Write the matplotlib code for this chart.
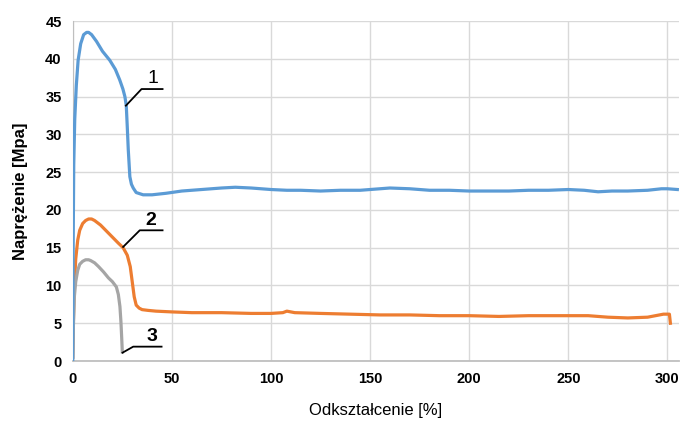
import matplotlib.pyplot as plt

plt.rcParams['font.family'] = ['Liberation Sans', 'DejaVu Sans']

# Stress-strain curves for three samples
strain_1 = [0, 0.2, 0.5, 1.0, 1.8, 2.7, 4.0, 5.5, 7.0, 8.0, 9.5, 12, 15, 18.7, 21.5, 23.7,
            25.3, 26.3, 27.0, 27.5, 28.0, 28.8, 29.6, 30.5, 32, 35.5, 40, 47, 55, 65, 75, 82,
            90, 100, 108, 115, 125, 135, 145, 155, 160, 170, 180, 190, 200, 210, 220, 230,
            240, 250, 258, 265, 272, 280, 290, 297, 300, 305]
stress_1 = [0, 15, 26, 32, 36.5, 39.8, 42.0, 43.2, 43.5, 43.5, 43.2, 42.3, 41.0, 39.8, 38.6, 37.2,
            36.0, 35.0, 33.8, 31.0, 28.0, 24.4, 23.4, 22.9, 22.3, 22.0, 22.0, 22.2, 22.5, 22.7, 22.9, 23.0,
            22.9, 22.7, 22.6, 22.6, 22.5, 22.6, 22.6, 22.8, 22.9, 22.8, 22.6, 22.6, 22.5, 22.5, 22.5, 22.6,
            22.6, 22.7, 22.6, 22.4, 22.5, 22.5, 22.6, 22.8, 22.8, 22.7]

strain_2 = [0, 0.3, 0.8, 1.5, 2.5, 3.5, 5.0, 6.5, 8.0, 9.5, 11, 14, 17, 20, 23, 25.4, 27.5,
            29.0, 30.0, 31.0, 32.0, 33.5, 35, 38, 42, 50, 60, 75, 90, 100, 106, 108, 112, 125,
            140, 155, 170, 185, 200, 215, 230, 245, 260, 270, 280, 290, 298, 301, 301.5]
stress_2 = [0.5, 5, 10, 13.5, 16, 17.3, 18.2, 18.6, 18.8, 18.8, 18.6, 18.0, 17.2, 16.4, 15.6, 15.0, 14.0,
            12.5, 10.5, 8.5, 7.4, 7.0, 6.8, 6.7, 6.6, 6.5, 6.4, 6.4, 6.3, 6.3, 6.4, 6.6, 6.4, 6.3,
            6.2, 6.1, 6.1, 6.0, 6.0, 5.9, 6.0, 6.0, 6.0, 5.8, 5.7, 5.8, 6.2, 6.2, 5.0]

strain_3 = [0, 0.3, 0.8, 1.5, 2.5, 3.5, 5.0, 6.5, 8.0, 9.0, 11, 13, 15.5, 18, 20, 22, 23, 23.8,
            24.3, 24.7, 25.0]
stress_3 = [0.5, 4.5, 8.5, 10.5, 12.0, 12.8, 13.2, 13.4, 13.4, 13.3, 13.0, 12.5, 11.8, 11.0, 10.5,
            9.8, 8.8, 7.2, 5.2, 3.0, 1.2]

# Leader lines for the curve numbers: curve point, elbow, end; then text position
labels = ['1', '2', '3']
leader_pts = [[(26.8, 33.8), (34.7, 36.0), (45.3, 36.0)],
              [(25.4, 15.1), (33.8, 17.3), (45.3, 17.3)],
              [(25.1, 1.1), (30.5, 1.9), (44.8, 1.9)]]
label_pos = [(40.2, 36.3), (39.5, 17.5), (39.7, 2.1)]

xticks = [0, 50, 100, 150, 200, 250, 300]
yticks = [0, 5, 10, 15, 20, 25, 30, 35, 40, 45]

fig = plt.figure(figsize=(6.8, 4.21), dpi=100)
ax = fig.add_axes([0.107, 0.1425, 0.892, 0.8075])

ax.plot(strain_2, stress_2, color='#ED7D31', lw=2.3, zorder=3)
ax.plot(strain_3, stress_3, color='#A5A5A5', lw=2.3, zorder=3)
ax.plot(strain_1, stress_1, color='#5B9BD5', lw=2.3, zorder=4)

for lab, pts, pos in zip(labels, leader_pts, label_pos):
    xs = [p[0] for p in pts]
    ys = [p[1] for p in pts]
    ax.plot(xs, ys, color='black', lw=1.3, zorder=5)
    ax.text(pos[0], pos[1], lab, fontsize=14, ha='center', va='bottom',
            fontweight='normal' if lab == '1' else 'bold', zorder=5)

ax.set_xlim(0, 306)
ax.set_ylim(0, 45)
ax.set_xticks(xticks)
ax.set_yticks(yticks)
ax.grid(True, color='#D9D9D9', lw=1.0)
ax.set_axisbelow(True)

for side in ['top', 'right']:
    ax.spines[side].set_visible(False)
ax.spines['bottom'].set_color('#BFBFBF')
ax.spines['bottom'].set_linewidth(1.3)
ax.spines['left'].set_color('#BFBFBF')
ax.tick_params(length=0, pad=8, labelsize=10.5)
for t in ax.get_xticklabels() + ax.get_yticklabels():
    t.set_fontweight('bold')

ax.set_xlabel('Odkształcenie [%]', fontsize=12, labelpad=12)
ax.set_ylabel('Naprężenie [Mpa]', fontsize=12, fontweight='bold', labelpad=12)

fig.savefig('out.png', dpi=100)
